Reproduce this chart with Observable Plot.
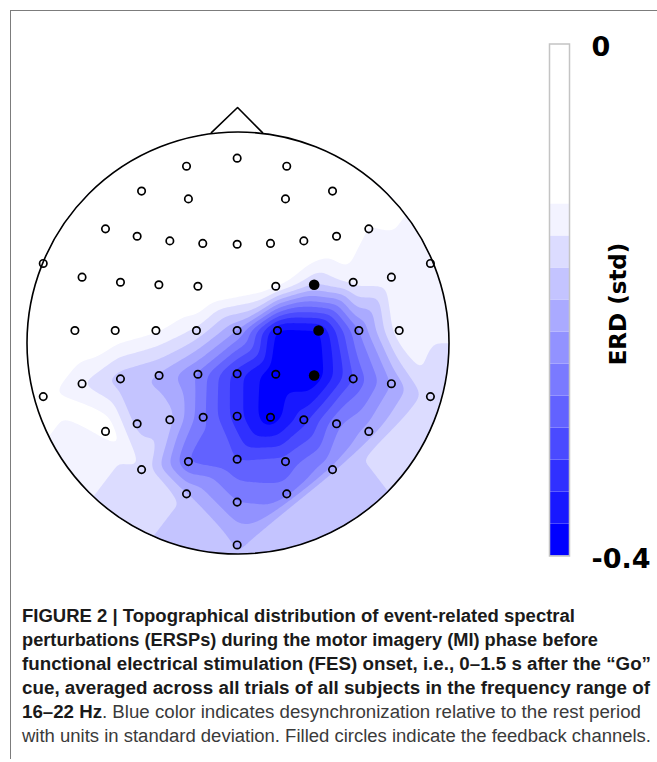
<!DOCTYPE html>
<html><head><meta charset="utf-8">
<script src="https://cdn.jsdelivr.net/npm/d3@7"></script>
<script src="https://cdn.jsdelivr.net/npm/@observablehq/plot@0.6"></script>
<style>
html,body{margin:0;padding:0;background:#fff;}
#fig{position:relative;width:657px;height:762px;overflow:hidden;background:#fff;}
#frame{position:absolute;left:10px;top:10px;width:660px;height:748px;border-top:1.6px solid #7c7c7c;border-left:1.6px solid #7c7c7c;}
#topo{position:absolute;left:20px;top:95px;}
#cbar{position:absolute;left:520px;top:0px;}
#cap{position:absolute;left:0;top:590px;}
</style></head><body>
<div id="fig"><div id="frame"></div><div id="topo"></div><div id="cbar"></div><div id="cap"></div></div>
<script>
// electrode positions (head units, radius 1)
const elecX = [-0.004,-0.244,0.231,-0.457,-0.235,0.225,0.448,
  -0.628,-0.478,-0.323,-0.167,-0.004,0.154,0.312,0.467,0.620,
  -0.923,-0.739,-0.557,-0.375,-0.190,0.179,0.361,0.546,0.727,0.912,
  -0.773,-0.582,-0.389,-0.197,-0.004,0.187,0.382,0.573,0.764,
  -0.923,-0.739,-0.557,-0.374,-0.190,-0.004,0.179,0.361,0.546,0.727,0.912,
  -0.628,-0.478,-0.323,-0.165,-0.004,0.154,0.312,0.467,0.620,
  -0.457,-0.235,-0.004,0.225,0.448,
  -0.244,-0.004,0.231,
  -0.004];
const elecY = [0.876,0.838,0.838,0.720,0.683,0.683,0.720,
  0.541,0.506,0.484,0.472,0.468,0.472,0.484,0.506,0.541,
  0.377,0.312,0.288,0.276,0.269,0.269,0.276,0.288,0.312,0.377,
  0.059,0.059,0.059,0.059,0.059,0.059,0.059,0.059,0.059,
  -0.254,-0.193,-0.170,-0.154,-0.148,-0.146,-0.148,-0.154,-0.170,-0.193,-0.254,
  -0.419,-0.383,-0.364,-0.352,-0.347,-0.352,-0.364,-0.383,-0.419,
  -0.600,-0.562,-0.551,-0.562,-0.600,
  -0.715,-0.754,-0.715,
  -0.957];
// ERD (std) at each electrode, estimated from the colour bands
const erdValues = [-0.05,-0.05,-0.05,-0.05,-0.05,-0.06,-0.11,
  -0.05,-0.05,-0.05,-0.05,-0.05,-0.06,-0.07,-0.09,-0.128,
  -0.06,-0.06,-0.06,-0.06,-0.07,-0.115,-0.175,-0.14,-0.13,-0.135,
  -0.09,-0.10,-0.12,-0.155,-0.225,-0.386,-0.382,-0.25,-0.13,
  -0.115,-0.15,-0.19,-0.205,-0.255,-0.34,-0.399,-0.399,-0.3,-0.225,-0.16,
  -0.10,-0.185,-0.19,-0.27,-0.34,-0.395,-0.335,-0.255,-0.215,
  -0.15,-0.28,-0.3,-0.29,-0.23,
  -0.2,-0.25,-0.265,
  -0.2];
// feedback channels (filled circles), zero-based indices
const feedbackIdx = [22, 32, 42];
// colour levels of the ERD scale
const levels = [-0.4,-0.375,-0.35,-0.325,-0.3,-0.275,-0.25,-0.225,-0.2,-0.175,-0.15,-0.125,-0.1,-0.075,-0.05,-0.025];
const levelColors = ["#0000ff","#1818ff","#3030ff","#4a4aff","#6262ff","#7a7aff","#9292ff","#aaaaff","#c4c4ff","#dcdcff","#f3f3ff","#ffffff","#ffffff","#ffffff","#ffffff","#ffffff"];
const tickValues = [0, -0.4];
const tickLabels = ["0", "-0.4"];
const nose = {x: [-0.126, -0.002, 0.116], y: [0.997, 1.116, 0.997]};
const captionLines = [
  [["FIGURE 2 | Topographical distribution of event-related spectral", true]],
  [["perturbations (ERSPs) during the motor imagery (MI) phase before", true]],
  [["functional electrical stimulation (FES) onset, i.e., 0–1.5 s after the “Go”", true]],
  [["cue, averaged across all trials of all subjects in the frequency range of", true]],
  [["16–22 Hz", true], [". Blue color indicates desynchronization relative to the rest period", false]],
  [["with units in standard deviation. Filled circles indicate the feedback channels.", false]]
];
const captionWidths = [553, 576, 629, 628, 619, 629];

const elecs = elecX.map((x, i) => ({x, y: elecY[i], v: erdValues[i], fb: feedbackIdx.includes(i)}));
const colorScale = {type: "ordinal", domain: levels, range: levelColors};

// ---- topographic map ----
const R = 211; // pixels per head unit
const W = 440, H = 470;
const topo = Plot.plot({
  width: W, height: H, margin: 0,
  x: {domain: [(0 - 217.5) / R, (W - 217.5) / R], axis: null},
  y: {domain: [(247.5 - H) / R, 247.5 / R], axis: null},
  color: colorScale,
  style: {background: "transparent", overflow: "visible"},
  marks: [
    Plot.contour(elecs, {x: "x", y: "y", fill: "v", thresholds: levels, interpolate: "barycentric", blur: 2, stroke: "none"}),
    Plot.line(nose.x.map((x, i) => ({x, y: nose.y[i]})), {x: "x", y: "y", stroke: "black", strokeWidth: 1.6}),
    Plot.dot([{x: 0, y: 0}], {x: "x", y: "y", r: R, stroke: "black", strokeWidth: 1.6, fill: "none"}),
    Plot.dot(elecs.filter(d => !d.fb), {x: "x", y: "y", r: 3.7, stroke: "black", strokeWidth: 1.7, fill: "none"}),
    Plot.dot(elecs.filter(d => d.fb), {x: "x", y: "y", r: 5.3, fill: "black", stroke: "none"})
  ]
});
{
  const sx = topo.scale("x"), sy = topo.scale("y");
  const cx = sx.apply(0), cy = sy.apply(0);
  const ns = "http://www.w3.org/2000/svg";
  const defs = document.createElementNS(ns, "defs");
  const cp = document.createElementNS(ns, "clipPath");
  cp.setAttribute("id", "headclip");
  const c = document.createElementNS(ns, "circle");
  c.setAttribute("cx", cx); c.setAttribute("cy", cy); c.setAttribute("r", R);
  cp.appendChild(c); defs.appendChild(cp);
  topo.insertBefore(defs, topo.firstChild);
  const g = topo.querySelector('g[aria-label="contour"]');
  if (g) g.setAttribute("clip-path", "url(#headclip)");
}
document.getElementById("topo").appendChild(topo);

// ---- colour bar ----
const cbar = Plot.plot({
  width: 137, height: 600,
  marginLeft: 29, marginRight: 88, marginTop: 43.5, marginBottom: 44.5,
  x: {axis: null},
  y: {domain: [-0.4, 0], axis: null},
  color: colorScale,
  style: {background: "transparent", overflow: "visible"},
  marks: [
    Plot.rect(levels, {y1: d => d, y2: d => d + 0.025, fill: d => d}),
    Plot.frame({stroke: "#c4c4c4", strokeWidth: 1.5}),
    Plot.axisY(tickValues, {anchor: "right", tickSize: 0, tickPadding: 22, dy: 3,
      tickFormat: d => tickLabels[tickValues.indexOf(d)],
      fontSize: 27, fontWeight: "bold", fontFamily: "DejaVu Sans", fill: "black", label: null}),
    Plot.text(["ERD (std)"], {frameAnchor: "right", text: d => d, rotate: -90, dx: 49, dy: 4,
      fontSize: 23, fontWeight: "bold", fontFamily: "DejaVu Sans", fill: "black", textAnchor: "middle", lineAnchor: "middle"})
  ]
});
document.getElementById("cbar").appendChild(cbar);

// ---- caption ----
const cap = d3.create("svg").attr("width", 657).attr("height", 172);
captionLines.forEach((segs, i) => {
  const t = cap.append("text").attr("x", 22).attr("y", 32 + i * 24)
    .attr("font-family", "'Liberation Sans', Arial, sans-serif").attr("font-size", 18)
    .attr("textLength", captionWidths[i]).attr("lengthAdjust", "spacingAndGlyphs");
  segs.forEach(([s, b]) => t.append("tspan").text(s)
    .attr("font-weight", b ? "bold" : "normal").attr("fill", b ? "#1a1a1a" : "#3a3a3a"));
});
document.getElementById("cap").appendChild(cap.node());
</script>
</body></html>
